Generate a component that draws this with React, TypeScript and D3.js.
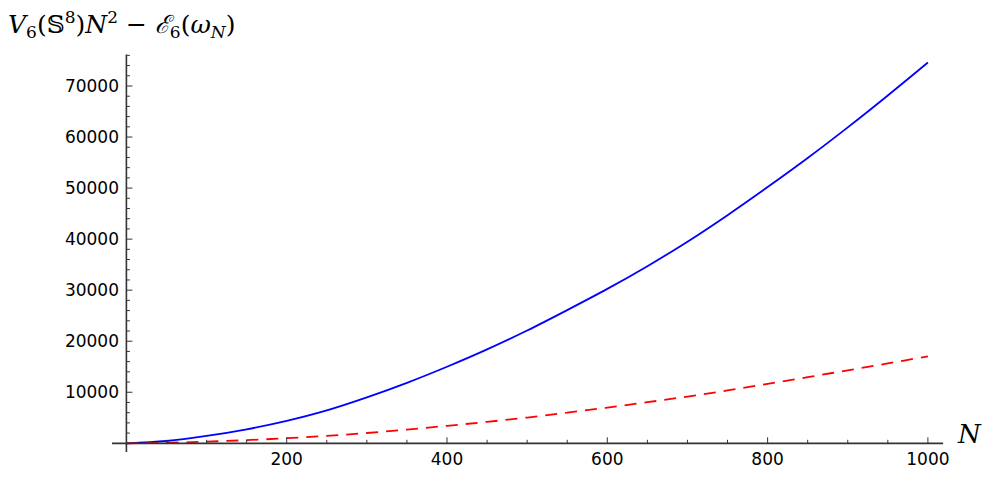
import React from 'react';
import * as d3 from 'd3';

const width = 1003;
const height = 486;
const blue = '#0000ff';
const red = '#ff0000';
const axisColor = '#333333';

// values, every 50 in N
const nValues = [0, 50, 100, 150, 200, 250, 300, 350, 400, 450, 500, 550, 600, 650, 700, 750, 800, 850, 900, 950, 1000];
const upperValues = [0, 450, 1450, 2750, 4400, 6450, 9000, 11850, 15000, 18400, 22100, 26100, 30250, 34700, 39500, 44700, 50200, 55900, 61900, 68150, 74600];
const lowerValues = [0, 100, 320, 620, 1000, 1460, 2020, 2680, 3420, 4200, 5050, 6000, 7000, 8050, 9150, 10350, 11650, 12950, 14300, 15650, 17050];

const xTicks = [200, 400, 600, 800, 1000];
const yTicks = [10000, 20000, 30000, 40000, 50000, 60000, 70000];

const xScale = d3.scaleLinear().domain([0, 1000]).range([126.4, 927.9]);
const yScale = d3.scaleLinear().domain([0, 70000]).range([443.3, 86]);

const xMinor = d3.range(50, 1001, 50).filter(v => v % 200 !== 0);
const yMinor = d3.range(2000, 76001, 2000).filter(v => v % 10000 !== 0);

const line = d3
  .line<number>()
  .x((d, i) => xScale(nValues[i]))
  .y(d => yScale(d))
  .curve(d3.curveCatmullRom.alpha(0.5));

const font = '"DejaVu Sans", sans-serif';
const mathFont = '"DejaVu Serif", "Liberation Serif", serif';

export default function App() {
  const x0 = xScale(0);
  const y0 = yScale(0);
  return (
    <svg width={width} height={height} style={{ position: 'absolute', left: 0, top: 0, background: '#fff' }}>
      {/* curves */}
      <path d={line(upperValues) || ''} fill="none" stroke={blue} strokeWidth={1.8} />
      <path d={line(lowerValues) || ''} fill="none" stroke={red} strokeWidth={1.8} strokeDasharray="12,8" />

      {/* axes */}
      <line x1={xScale(-18)} x2={xScale(1019)} y1={y0} y2={y0} stroke={axisColor} strokeWidth={1.8} />
      <line x1={x0} x2={x0} y1={yScale(76150)} y2={yScale(-1700)} stroke={axisColor} strokeWidth={1.6} />

      {xTicks.map(t => (
        <g key={'xt' + t}>
          <line x1={xScale(t)} x2={xScale(t)} y1={y0} y2={y0 - 6} stroke={axisColor} strokeWidth={1} />
          <text x={xScale(t)} y={465} textAnchor="middle" fontFamily={font} fontSize={17} fill="#000">
            {t}
          </text>
        </g>
      ))}
      {xMinor.map(t => (
        <line key={'xm' + t} x1={xScale(t)} x2={xScale(t)} y1={y0} y2={y0 - 3.5} stroke={axisColor} strokeWidth={1} />
      ))}

      {yTicks.map(t => (
        <g key={'yt' + t}>
          <line x1={x0} x2={x0 + 6} y1={yScale(t)} y2={yScale(t)} stroke={axisColor} strokeWidth={1} />
          <text x={119} y={yScale(t)} dy="0.36em" textAnchor="end" fontFamily={font} fontSize={17} fill="#000">
            {t}
          </text>
        </g>
      ))}
      {yMinor.map(t => (
        <line key={'ym' + t} x1={x0} x2={x0 + 3.5} y1={yScale(t)} y2={yScale(t)} stroke={axisColor} strokeWidth={1} />
      ))}

      {/* axis labels */}
      <text x={958} y={443} fontFamily={mathFont} fontStyle="italic" fontSize={26} fill="#000">
        N
      </text>
      <text x={8} y={33} fontFamily={mathFont} fontSize={25} fill="#000">
        <tspan fontStyle="italic">V</tspan>
        <tspan fontSize={17} dy={5}>6</tspan>
        <tspan dy={-5}>(𝕊</tspan>
        <tspan fontSize={17} dy={-10}>8</tspan>
        <tspan dy={10}>)</tspan>
        <tspan fontStyle="italic">N</tspan>
        <tspan fontSize={17} dy={-10}>2</tspan>
        <tspan dy={10}> − </tspan>
        <tspan fontStyle="italic">ℰ</tspan>
        <tspan fontSize={17} dy={5}>6</tspan>
        <tspan dy={-5}>(</tspan>
        <tspan fontStyle="italic">ω</tspan>
        <tspan fontSize={17} fontStyle="italic" dy={5}>N</tspan>
        <tspan dy={-5}>)</tspan>
      </text>
    </svg>
  );
}
